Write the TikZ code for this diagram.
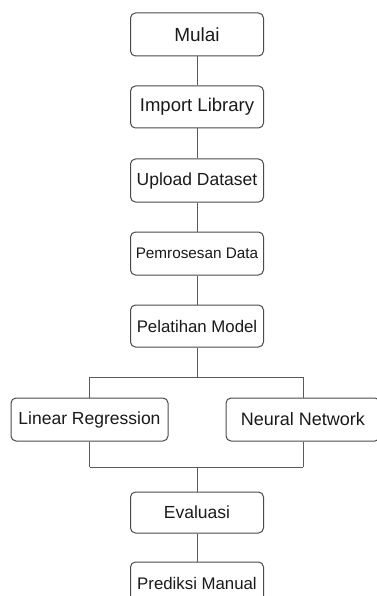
\documentclass[tikz,border=0pt]{standalone}
\usepackage{fontspec}
\setmainfont{Liberation Sans}
\definecolor{boxline}{HTML}{4A4A4A}
\definecolor{conn}{HTML}{5A5A5A}
\definecolor{txt}{HTML}{1A1A1A}
\tikzset{
  stepbox/.style={draw=boxline, line width=1pt, rounded corners=5pt, fill=white,
    minimum width=133pt, minimum height=42pt, inner sep=0pt, text=txt},
  fs/.style={font=\fontsize{#1}{#1}\selectfont},
  link/.style={draw=conn, line width=1pt}
}
\begin{document}
\begin{tikzpicture}[x=1pt,y=-1pt]
\useasboundingbox (0,0) rectangle (376,596);
\node[stepbox, fs=19, minimum height=43pt] (mulai) at (197,34.5) {Mulai};
\node[stepbox, fs=18.5] (imp) at (197,107) {Import Library};
\node[stepbox, fs=17.5, minimum height=43pt] (upl) at (197,180.5) {Upload Dataset};
\node[stepbox, fs=15.3, minimum height=43pt] (pem) at (197,253.5) {Pemrosesan Data};
\node[stepbox, fs=16.8] (pel) at (197,326) {Pelatihan Model};
\node[stepbox, fs=17.5, minimum width=157pt, minimum height=43pt] (lin) at (89.5,419.5) {Linear Regression};
\node[stepbox, fs=18, minimum width=154pt, minimum height=43pt] (neu) at (303,419.5) {Neural Network};
\node[stepbox, fs=17.5, minimum height=41pt] (eva) at (197,512.5) {Evaluasi};
\node[stepbox, fs=16.8] (pre) at (197,583) {Prediksi Manual};
\coordinate (split) at (197,377);
\coordinate (join) at (197,467);
\draw[link] (mulai) -- (imp);
\draw[link] (imp) -- (upl);
\draw[link] (upl) -- (pem);
\draw[link] (pem) -- (pel);
\draw[link] (pel) -- (split);
\draw[link] (lin.north |- split) -- (neu.north |- split);
\draw[link] (lin.north |- split) -- (lin);
\draw[link] (neu.north |- split) -- (neu);
\draw[link] (lin) -- (lin.south |- join);
\draw[link] (neu) -- (neu.south |- join);
\draw[link] (lin.south |- join) -- (neu.south |- join);
\draw[link] (join) -- (eva);
\draw[link] (eva) -- (pre);
\end{tikzpicture}
\end{document}
